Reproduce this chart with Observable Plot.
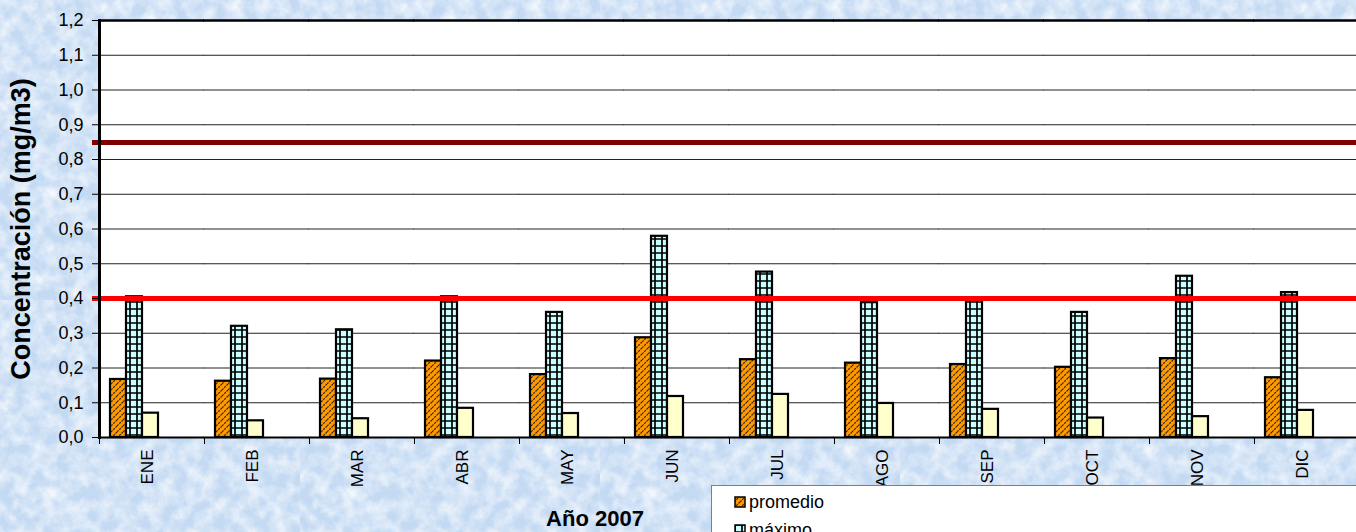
<!DOCTYPE html>
<html>
<head>
<meta charset="utf-8">
<script src="https://cdn.jsdelivr.net/npm/d3@7"></script>
<script src="https://cdn.jsdelivr.net/npm/@observablehq/plot@0.6"></script>
<style>
  html, body { margin: 0; padding: 0; width: 1356px; height: 532px; overflow: hidden; }
  body { background-color: #c4daf3; font-family: "Liberation Sans", Arial, sans-serif; }
  #wrap { position: relative; width: 1356px; height: 532px; overflow: hidden; }
  #chart svg { display: block; }
  #xtitle { position: absolute; left: 445px; width: 300px; top: 508px; text-align: center;
            font-size: 22px; line-height: 22px; font-weight: bold; color: #000; }
  #legend { position: absolute; left: 711px; top: 485px; width: 700px; height: 120px;
            background: #fff; border: 1px solid #7f7f7f; box-sizing: border-box; }
  .item { position: absolute; left: 22px; height: 20px; width: 300px; }
  .item svg { position: absolute; left: 0; top: 3px; }
  .item span { position: absolute; left: 15px; top: 0; font-size: 18px; line-height: 18px; color: #000; white-space: nowrap; }
</style>
</head>
<body>
<div id="wrap">
  <div id="chart"></div>
  <div id="xtitle">Año 2007</div>
  <div id="legend"></div>
</div>
<script>
// ---- data ----
const months = ["ENE", "FEB", "MAR", "ABR", "MAY", "JUN", "JUL", "AGO", "SEP", "OCT", "NOV", "DIC"];
const seriesNames = ["promedio", "máximo", "mínimo"];
const promedio = [0.167, 0.162, 0.168, 0.220, 0.181, 0.287, 0.224, 0.214, 0.210, 0.202, 0.227, 0.172];
const maximo   = [0.405, 0.320, 0.310, 0.405, 0.360, 0.579, 0.476, 0.388, 0.400, 0.360, 0.464, 0.417];
const minimo   = [0.070, 0.048, 0.054, 0.084, 0.069, 0.118, 0.124, 0.098, 0.081, 0.056, 0.060, 0.078];
const yTicks = [0, 0.1, 0.2, 0.3, 0.4, 0.5, 0.6, 0.7, 0.8, 0.9, 1.0, 1.1, 1.2];
const limitValues = [0.4, 0.85];
const limitColors = ["#FF0000", "#800000"];
const seriesFills = ["url(#pat-prom)", "url(#pat-max)", "#FFFFCC"];

const seriesValues = [promedio, maximo, minimo];
const rows = months.flatMap((m, i) => seriesNames.map((s, j) => ({month: m, series: s, value: seriesValues[j][i]})));
const limits = limitValues.map((v, i) => ({value: v, color: limitColors[i]}));

// ---- background texture ----
const noise = `<svg xmlns='http://www.w3.org/2000/svg' width='300' height='300'><filter id='n'><feTurbulence type='fractalNoise' baseFrequency='0.07' numOctaves='4' seed='7' stitchTiles='stitch'/><feColorMatrix values='0 0 0 0 1 0 0 0 0 1 0 0 0 0 1 1.4 0 0 0 -0.45'/></filter><rect width='300' height='300' filter='url(#n)'/></svg>`;
document.body.style.backgroundImage = `url("data:image/svg+xml;utf8,${encodeURIComponent(noise)}")`;

// ---- chart ----
const chart = Plot.plot({
  width: 1361,
  height: 532,
  marginLeft: 96,
  marginRight: 0,
  marginTop: 20,
  marginBottom: 95,
  style: {background: "transparent", fontFamily: "'Liberation Sans', Arial, sans-serif", color: "#000", maxWidth: "none", overflow: "visible"},
  fx: {domain: months, padding: 0, label: null},
  x: {domain: seriesNames, paddingInner: 0, paddingOuter: 1.739, align: 0.2, axis: null},
  y: {domain: [0, 1.2], label: null},
  color: {type: "identity"},
  marks: [
    Plot.frame({fill: "white", stroke: null, facet: "super"}),
    Plot.gridY(yTicks, {stroke: "#222", strokeOpacity: 1, strokeWidth: 1, insetLeft: -0.5}),
    Plot.barY(rows, {fx: "month", x: "series", y: "value",
      fill: d => seriesFills[seriesNames.indexOf(d.series)], stroke: "#000", strokeWidth: 2.2}),
    Plot.ruleY(limits, {y: "value", stroke: "color", strokeWidth: 5, insetLeft: -7, shapeRendering: "crispEdges"}),
    Plot.ruleY([0], {stroke: "#000", strokeWidth: 2, insetLeft: -0.5}),
    Plot.ruleY([1.2], {stroke: "#000", strokeWidth: 2.5, insetLeft: -1}),
    Plot.frame({anchor: "left", stroke: "#000", strokeWidth: 3, facet: "super"}),
    Plot.frame({anchor: "left", insetTop: 417, insetBottom: -6, stroke: "#000", strokeWidth: 1}),
    Plot.axisY(yTicks, {anchor: "left", tickFormat: d => d.toFixed(1).replace(".", ","),
      tickSize: 7, tickPadding: 9, fontSize: 18, label: null}),
    Plot.axisY({ticks: [], anchor: "left", tickSize: 0, label: "Concentración (mg/m3)",
      labelAnchor: "center", labelArrow: "none", labelOffset: 89, fontSize: 27, fontWeight: "bold"}),
    Plot.axisFx({anchor: "bottom", tickRotate: -90, tickSize: 0, tickPadding: 12, dx: -4, fontSize: 17, label: null})
  ]
});

// patterns
const ns = "http://www.w3.org/2000/svg";
const defs = document.createElementNS(ns, "defs");
defs.innerHTML = `
  <pattern id="pat-prom" patternUnits="userSpaceOnUse" width="6" height="6">
    <rect width="6" height="6" fill="#FF9900"/>
    <path d="M0,6 L6,0 M-1.5,1.5 L1.5,-1.5 M4.5,7.5 L7.5,4.5" stroke="#3b2608" stroke-width="1.2" stroke-dasharray="2.2,1"/>
  </pattern>
  <pattern id="pat-max" patternUnits="userSpaceOnUse" width="7" height="7">
    <rect width="7" height="7" fill="#CCFFFF"/>
    <path d="M0,1 H7 M1,0 V7" stroke="#000" stroke-width="1.7"/>
  </pattern>`;
chart.insertBefore(defs, chart.firstChild);
document.getElementById("chart").appendChild(chart);

// legend
const legend = document.getElementById("legend");
seriesNames.forEach((s, i) => {
  const item = document.createElement("div");
  item.className = "item";
  item.style.top = (7 + i * 28) + "px";
  item.innerHTML = `<svg width="12" height="12"><rect x="1" y="1" width="10" height="10" fill="${seriesFills[i]}" stroke="#000" stroke-width="1.5"/></svg><span>${s}</span>`;
  legend.appendChild(item);
});
</script>
</body>
</html>
